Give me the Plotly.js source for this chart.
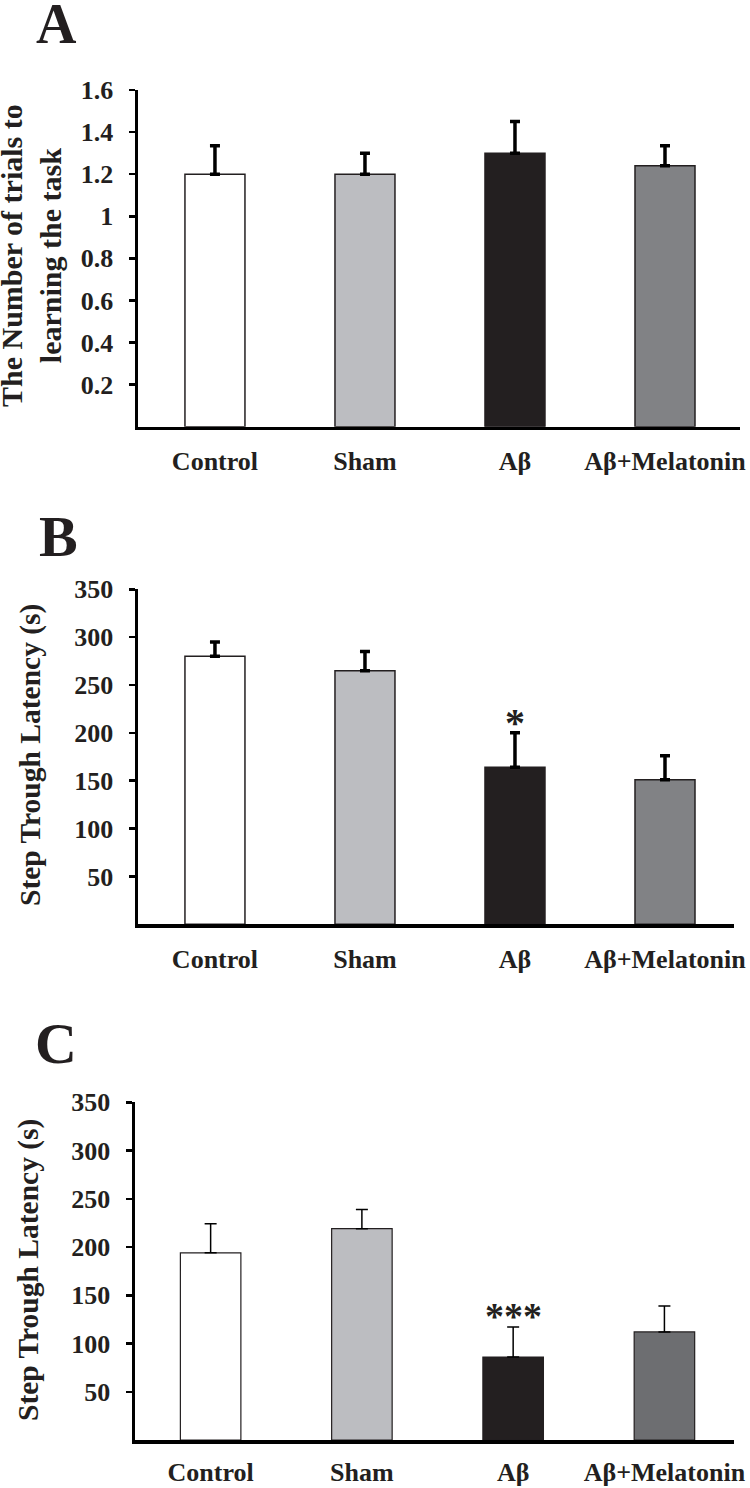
<!DOCTYPE html>
<html>
<head>
<meta charset="utf-8">
<script src="https://cdn.plot.ly/plotly-3.0.1.min.js"></script>
<style>html,body{margin:0;padding:0;background:#fff;}#chart{width:750px;height:1488px;}</style>
</head>
<body>
<div id="chart"></div>
<script>
// ---- data ----
const categories = ["Control", "Sham", "A\u03b2", "A\u03b2+Melatonin"];

const trialsMean = [1.2, 1.2, 1.3, 1.24];
const trialsErr  = [0.135, 0.10, 0.15, 0.095];

const latencyBMean = [280, 265, 164, 151];
const latencyBErr  = [15, 20, 36, 25];

const latencyCMean = [194, 219, 86, 112];
const latencyCErr  = [30, 20, 31, 27];

const yTicksA = [0.2, 0.4, 0.6, 0.8, 1, 1.2, 1.4, 1.6];
const yTickTextA = ["0.2", "0.4", "0.6", "0.8", "1", "1.2", "1.4", "1.6"];
const yTicksBC = [50, 100, 150, 200, 250, 300, 350];

const panelLabels = ["A", "B", "C"];
const yTitleA = "The Number of trials to<br>learning the task";
const yTitleBC = "Step Trough Latency (s)";
const sigB = "*";
const sigC = "***";

// ---- styling ----
const W = 750, H = 1488;
const FONT = "Liberation Serif, Times New Roman, serif";
const colorsAB = ["#ffffff", "#bcbdc1", "#231f20", "#818285"];
const colorsC  = ["#ffffff", "#bcbdc1", "#231f20", "#6d6e71"];
const px = v => v / W;
const py = v => 1 - v / H;

function barTrace(y, err, colors, xa, ya, thick) {
  return {
    type: "bar", x: categories, y: y, xaxis: xa, yaxis: ya,
    width: 0.4,
    marker: {color: colors, line: {color: "#231f20", width: thick ? 1.5 : 1.2}},
    error_y: {type: "data", array: err, arrayminus: err.map(() => 0), symmetric: false,
              visible: true, color: "#000", thickness: thick ? 3.5 : 1.5, width: thick ? 5 : 6},
    hoverinfo: "skip", showlegend: false
  };
}

const data = [
  barTrace(trialsMean, trialsErr, colorsAB, "x", "y", true),
  barTrace(latencyBMean, latencyBErr, colorsAB, "x2", "y2", true),
  barTrace(latencyCMean, latencyCErr, colorsC, "x3", "y3", false)
];

const tickFont = {family: FONT, size: 26, color: "#231f20", weight: "bold"};
function xAxis(dom, range, anchor, standoff) {
  return {domain: dom, range: range, anchor: anchor, type: "category",
          showline: true, linewidth: 3.5, linecolor: "#000", ticks: "",
          showgrid: false, zeroline: false, tickfont: tickFont, ticklabelstandoff: standoff,
          fixedrange: true};
}
function yAxis(dom, range, anchor, vals, text) {
  return {domain: dom, range: range, anchor: anchor,
          showline: true, linewidth: 3.5, linecolor: "#000",
          ticks: "outside", ticklen: 6, tickwidth: 2.5, tickcolor: "#000",
          tickvals: vals, ticktext: text, showgrid: false, zeroline: false,
          tickfont: tickFont, ticklabelstandoff: 10, fixedrange: true};
}

const layout = {
  width: W, height: H,
  margin: {l: 0, r: 0, t: 0, b: 0},
  paper_bgcolor: "#fff", plot_bgcolor: "rgba(0,0,0,0)",
  showlegend: false, bargap: 0,
  xaxis:  xAxis([px(138), px(740)], [-0.513, 3.5], "y", 9),
  yaxis:  yAxis([py(426.7), py(90)], [0, 1.6], "x", yTicksA, yTickTextA),
  xaxis2: xAxis([px(138), px(734)], [-0.513, 3.46], "y2", 9),
  yaxis2: yAxis([py(924.3), py(589.3)], [0, 350], "x2", yTicksBC, yTicksBC.map(String)),
  xaxis3: xAxis([px(135), px(734)], [-0.5, 3.46], "y3", 6),
  yaxis3: yAxis([py(1440), py(1102.3)], [0, 350], "x3", yTicksBC, yTicksBC.map(String)),
  annotations: [
    {text: panelLabels[0], xref: "paper", yref: "paper", x: px(56), y: py(24), xanchor: "center", yanchor: "middle",
     showarrow: false, font: {family: FONT, size: 56, color: "#231f20", weight: "bold"}},
    {text: panelLabels[1], xref: "paper", yref: "paper", x: px(58), y: py(537), xanchor: "center", yanchor: "middle",
     showarrow: false, font: {family: FONT, size: 58, color: "#231f20", weight: "bold"}},
    {text: panelLabels[2], xref: "paper", yref: "paper", x: px(56), y: py(1043), xanchor: "center", yanchor: "middle",
     showarrow: false, font: {family: FONT, size: 58, color: "#231f20", weight: "bold"}},
    {text: yTitleA, xref: "paper", yref: "paper", x: px(31), y: py(256), xanchor: "center", yanchor: "middle",
     textangle: -90, showarrow: false, font: {family: FONT, size: 30, color: "#231f20", weight: "bold"}},
    {text: yTitleBC, xref: "paper", yref: "paper", x: px(30), y: py(755), xanchor: "center", yanchor: "middle",
     textangle: -90, showarrow: false, font: {family: FONT, size: 29.5, color: "#231f20", weight: "bold"}},
    {text: yTitleBC, xref: "paper", yref: "paper", x: px(28), y: py(1270), xanchor: "center", yanchor: "middle",
     textangle: -90, showarrow: false, font: {family: FONT, size: 29.5, color: "#231f20", weight: "bold"}},
    {text: sigB, xref: "x2", yref: "paper", x: categories[2], y: py(715), xanchor: "center", yanchor: "middle",
     yshift: -7, showarrow: false, font: {family: FONT, size: 40, color: "#231f20", weight: "bold"}},
    {text: sigC, xref: "x3", yref: "paper", x: categories[2], y: py(1309), xanchor: "center", yanchor: "middle",
     yshift: -7, showarrow: false, font: {family: FONT, size: 38, color: "#231f20", weight: "bold"}}
  ]
};

Plotly.newPlot("chart", data, layout, {displayModeBar: false, staticPlot: true});
</script>
</body>
</html>
